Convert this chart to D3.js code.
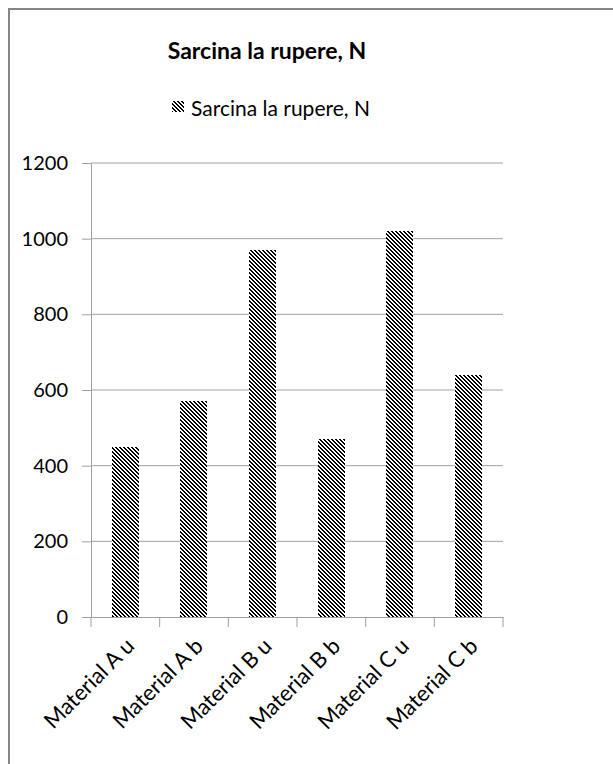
<!DOCTYPE html>
<html>
<head>
<meta charset="utf-8">
<script src="https://cdn.jsdelivr.net/npm/d3@7"></script>
<style>
  body { margin: 0; background: #fff; }
  svg { display: block; font-family: Lato, "Open Sans", sans-serif; }
</style>
</head>
<body>
<svg id="chart"></svg>
<script>
// DATA
const categories = ['Material A u', 'Material A b', 'Material B u', 'Material B b', 'Material C u', 'Material C b']
const loadValues = [450, 570, 970, 470, 1020, 640]
const yTicks = [0, 200, 400, 600, 800, 1000, 1200]
const chartTitle = 'Sarcina la rupere, N'
const seriesName = 'Sarcina la rupere, N'

const width = 613
const height = 764
const margins = {top: 163, bottom: 147, left: 91, right: 110}
const plotWidth = width - margins.left - margins.right
const plotHeight = height - margins.top - margins.bottom

let svg = d3.select('#chart')
    .attr('width', width)
    .attr('height', height)

// HATCH PATTERN (pixel staircase, "\" direction)
let pattern = svg.append('defs')
    .append('pattern')
    .attr('id', 'hatch')
    .attr('patternUnits', 'userSpaceOnUse')
    .attr('width', 4)
    .attr('height', 4)
pattern.append('rect').attr('width', 4).attr('height', 4).attr('fill', '#fff')
pattern.selectAll('.px')
    .data(d3.range(4))
    .join('rect')
        .attr('x', i => i)
        .attr('y', i => i)
        .attr('width', 2)
        .attr('height', 1)
        .attr('fill', '#000')
        .attr('shape-rendering', 'crispEdges')
pattern.append('rect')
    .attr('x', 0).attr('y', 3).attr('width', 1).attr('height', 1)
    .attr('fill', '#000').attr('shape-rendering', 'crispEdges')

// OUTER FRAME
svg.append('rect')
    .attr('x', 9)
    .attr('y', 9)
    .attr('width', width + 20)
    .attr('height', height + 20)
    .attr('fill', 'none')
    .attr('stroke', '#868686')
    .attr('stroke-width', 2)

// TITLE
svg.append('text')
    .attr('x', 267)
    .attr('y', 59)
    .attr('text-anchor', 'middle')
    .attr('font-size', 23)
    .attr('font-weight', 'bold')
    .attr('fill', '#000')
    .text(chartTitle)

// LEGEND
let legend = svg.append('g')
legend.append('rect')
    .attr('x', 172)
    .attr('y', 101)
    .attr('width', 12)
    .attr('height', 11)
    .attr('fill', 'url(#hatch)')
legend.append('text')
    .attr('x', 191)
    .attr('y', 116)
    .attr('font-size', 21)
    .attr('fill', '#000')
    .text(seriesName)

let chart = svg.append('g')
    .attr('transform', `translate(${margins.left},${margins.top})`)

// SCALES
let x = d3.scaleBand()
    .domain(categories)
    .range([0, plotWidth])
    .padding(0)
let y = d3.scaleLinear()
    .domain([0, 1200])
    .range([plotHeight, 0])

// GRIDLINES
chart.append('g')
    .selectAll('line')
    .data(yTicks.filter(d => d > 0))
    .join('line')
        .attr('x1', 0)
        .attr('x2', plotWidth)
        .attr('y1', d => y(d))
        .attr('y2', d => y(d))
        .attr('stroke', '#a0a0a0')
        .attr('stroke-width', 1)

// Y AXIS
let yAxis = chart.append('g')
    .call(d3.axisLeft(y).tickValues(yTicks).tickFormat(d3.format('d')).tickSize(9).tickPadding(14))
yAxis.selectAll('path, line').attr('stroke', '#a0a0a0')
yAxis.selectAll('text')
    .attr('font-size', 20)
    .attr('font-family', 'Lato, sans-serif')
    .attr('fill', '#000')

// BARS
let barWidth = x.bandwidth() * 0.4
chart.append('g')
    .selectAll('rect')
    .data(categories.map((c, i) => ({label: c, value: loadValues[i]})))
    .join('rect')
        .attr('x', d => Math.round(x(d.label) + (x.bandwidth() - barWidth) / 2))
        .attr('y', d => Math.round(y(d.value)))
        .attr('width', Math.round(barWidth))
        .attr('height', d => Math.round(plotHeight - y(d.value)))
        .attr('fill', 'url(#hatch)')

// X AXIS
let xAxis = chart.append('g')
    .attr('transform', `translate(0,${plotHeight})`)
    .call(d3.axisBottom(x).tickSize(0).tickSizeOuter(0))
xAxis.select('.domain').attr('stroke', '#a0a0a0')
xAxis.selectAll('.tick line').remove()

// category separator ticks
xAxis.selectAll('.sep')
    .data(d3.range(categories.length + 1))
    .join('line')
        .attr('x1', i => i * x.step())
        .attr('x2', i => i * x.step())
        .attr('y1', 0)
        .attr('y2', 10)
        .attr('stroke', '#a0a0a0')

xAxis.selectAll('.tick text')
    .attr('font-size', 22)
    .attr('font-family', 'Lato, sans-serif')
    .attr('fill', '#000')
    .style('text-anchor', 'end')
    .attr('y', 0)
    .attr('dy', '0.35em')
    .attr('transform', 'translate(5,25) rotate(-45)')
</script>
</body>
</html>
